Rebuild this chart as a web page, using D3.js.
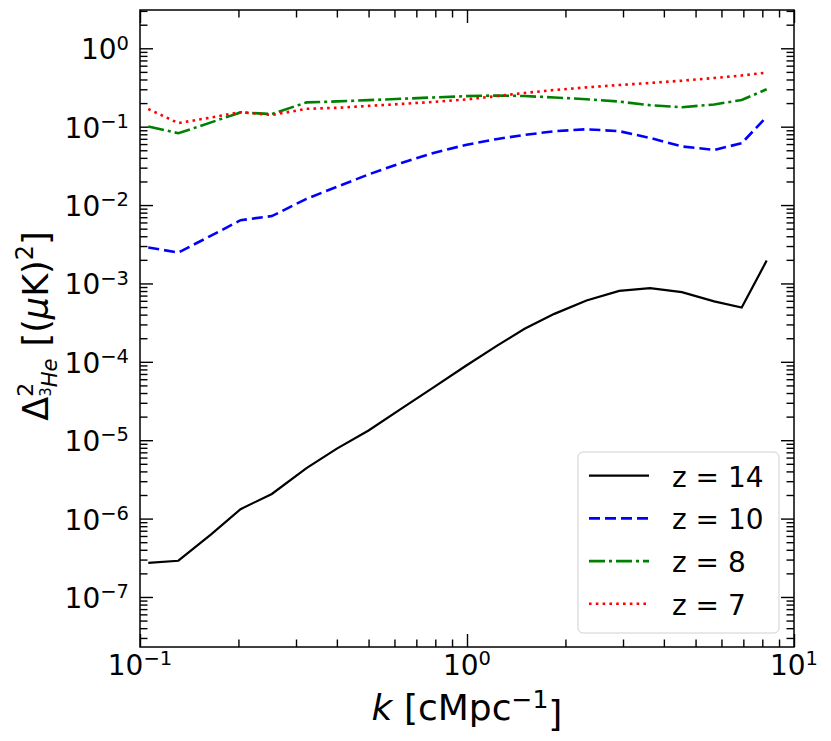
<!DOCTYPE html>
<html>
<head>
<meta charset="utf-8">
<script src="https://cdn.jsdelivr.net/npm/d3@7"></script>
<style>
  body { margin: 0; background: #fff; }
  text { font-family: "DejaVu Sans", sans-serif; fill: #000; }
</style>
</head>
<body>
<svg id="chart"></svg>
<script>
// wavenumbers k [cMpc^-1]
const kValues = [0.106, 0.131, 0.165, 0.203, 0.253, 0.323, 0.40, 0.50, 0.63, 0.79, 0.99,
                 1.24, 1.50, 1.85, 2.32, 2.92, 3.63, 4.54, 5.70, 6.92, 8.25];

const z14 = [2.72e-7, 2.9e-7, 6.3e-7, 1.32e-6, 2.06e-6, 4.41e-6, 7.8e-6, 1.33e-5, 2.53e-5, 4.73e-5, 8.85e-5,
             1.62e-4, 2.64e-4, 4.09e-4, 6.05e-4, 8.04e-4, 8.7e-4, 7.74e-4, 5.91e-4, 4.93e-4, 1.96e-3];
const z10 = [2.88e-3, 2.48e-3, 4.07e-3, 6.41e-3, 7.23e-3, 1.2e-2, 1.71e-2, 2.46e-2, 3.45e-2, 4.63e-2, 5.85e-2,
             6.98e-2, 7.85e-2, 8.74e-2, 9.27e-2, 8.77e-2, 7.18e-2, 5.6e-2, 5.05e-2, 6.15e-2, 0.134];
const z8 = [0.1007, 0.0825, 0.1135, 0.152, 0.145, 0.204, 0.21, 0.218, 0.227, 0.236, 0.245,
            0.25, 0.246, 0.236, 0.224, 0.209, 0.188, 0.177, 0.192, 0.219, 0.30];
const z7 = [0.168, 0.111, 0.131, 0.153, 0.141, 0.169, 0.174, 0.184, 0.195, 0.207, 0.222,
            0.246, 0.269, 0.294, 0.317, 0.34, 0.361, 0.386, 0.418, 0.45, 0.489];

const seriesNames = ["z = 14", "z = 10", "z = 8", "z = 7"];
const xTickExps = [-1, 0, 1];
const yTickExps = [0, -1, -2, -3, -4, -5, -6, -7];

const width = 831;
const height = 741;
const margin = ({ top: 10, right: 37, bottom: 94, left: 140 });

const styles = [
  { color: "#000000", dash: null, w: 2.2 },
  { color: "#0000ff", dash: "11,5", w: 2.6 },
  { color: "#008000", dash: "16,4,3,4", w: 2.6 },
  { color: "#ff0000", dash: "2.6,4.2", w: 2.6 }
];

const series = [z14, z10, z8, z7].map((vals, i) => ({
  name: seriesNames[i],
  points: kValues.map((k, j) => ({ k: k, v: vals[j] })),
  style: styles[i]
}));

let xScale = d3.scaleLog()
    .domain([0.1, 10])
    .range([margin.left, width - margin.right]);

let yScale = d3.scaleLog()
    .domain([2.3e-8, 3.08])
    .range([height - margin.bottom, margin.top]);

const svg = d3.select("#chart")
    .attr("width", width)
    .attr("height", height);

// minor tick values 2..9 x 10^n
function minors(lo, hi) {
  let out = [];
  for (let e = Math.floor(Math.log10(lo)); e <= Math.ceil(Math.log10(hi)); e++) {
    for (let m = 2; m <= 9; m++) {
      let v = m * Math.pow(10, e);
      if (v > lo && v < hi) out.push(v);
    }
  }
  return out;
}

const xMajor = xTickExps.map(e => Math.pow(10, e));
const yMajor = yTickExps.map(e => Math.pow(10, e));
const xMinor = minors(0.1, 10);
const yMinor = minors(2.3e-8, 3.08);

const majorLen = 13, minorLen = 7.5;
const plotH = height - margin.bottom - margin.top;
const plotW = width - margin.left - margin.right;

function tickAxis(axisFn, scale, values, len, transform) {
  svg.append("g")
      .attr("transform", transform)
      .call(axisFn(scale).tickValues(values).tickSize(-len).tickFormat(""))
      .call(g => g.select(".domain").remove())
      .call(g => g.selectAll(".tick line").attr("stroke", "#000").attr("stroke-width", 1.4));
}

// inward ticks on all four sides
tickAxis(d3.axisBottom, xScale, xMajor, majorLen, `translate(0,${height - margin.bottom})`);
tickAxis(d3.axisBottom, xScale, xMinor, minorLen, `translate(0,${height - margin.bottom})`);
tickAxis(d3.axisTop, xScale, xMajor, majorLen, `translate(0,${margin.top})`);
tickAxis(d3.axisTop, xScale, xMinor, minorLen, `translate(0,${margin.top})`);
tickAxis(d3.axisLeft, yScale, yMajor, majorLen, `translate(${margin.left},0)`);
tickAxis(d3.axisLeft, yScale, yMinor, minorLen, `translate(${margin.left},0)`);
tickAxis(d3.axisRight, yScale, yMajor, majorLen, `translate(${width - margin.right},0)`);
tickAxis(d3.axisRight, yScale, yMinor, minorLen, `translate(${width - margin.right},0)`);

// tick labels 10^n
function powLabel(sel, e) {
  sel.append("tspan").text("10");
  sel.append("tspan")
      .attr("dy", "-0.5em")
      .attr("font-size", 19.5)
      .text(String(e).replace("-", "\u2212"));
}

svg.append("g").selectAll("text")
    .data(xTickExps)
    .join("text")
    .attr("x", d => xScale(Math.pow(10, d)))
    .attr("y", height - margin.bottom + 28)
    .attr("text-anchor", "middle")
    .attr("font-size", 28)
    .each(function (d) { powLabel(d3.select(this), d); });

svg.append("g").selectAll("text")
    .data(yTickExps)
    .join("text")
    .attr("x", margin.left - 11)
    .attr("y", d => yScale(Math.pow(10, d)) + 11)
    .attr("text-anchor", "end")
    .attr("font-size", 28)
    .each(function (d) { powLabel(d3.select(this), d); });

// lines
const line = d3.line()
    .x(d => xScale(d.k))
    .y(d => yScale(d.v));

svg.append("clipPath").attr("id", "plotclip")
    .append("rect")
    .attr("x", margin.left).attr("y", margin.top)
    .attr("width", plotW).attr("height", plotH);

svg.append("g")
    .attr("clip-path", "url(#plotclip)")
    .selectAll("path")
    .data(series)
    .join("path")
    .attr("fill", "none")
    .attr("stroke", d => d.style.color)
    .attr("stroke-width", d => d.style.w)
    .attr("stroke-dasharray", d => d.style.dash)
    .attr("d", d => line(d.points));

// frame
svg.append("rect")
    .attr("x", margin.left)
    .attr("y", margin.top)
    .attr("width", plotW)
    .attr("height", plotH)
    .attr("fill", "none")
    .attr("stroke", "#000")
    .attr("stroke-width", 1.5);

// legend
const legend = svg.append("g");
legend.append("rect")
    .attr("x", 578).attr("y", 452)
    .attr("width", 201).attr("height", 181)
    .attr("rx", 5)
    .attr("fill", "#fff").attr("fill-opacity", 0.8)
    .attr("stroke", "#d0d0d0").attr("stroke-width", 1);

const rows = legend.selectAll("g.row")
    .data(series)
    .join("g")
    .attr("class", "row")
    .attr("transform", (d, i) => `translate(0,${486.7 + i * 42.7})`);

rows.append("line")
    .attr("x1", 589).attr("x2", 649)
    .attr("y1", -11).attr("y2", -11)
    .attr("stroke", d => d.style.color)
    .attr("stroke-width", d => d.style.w)
    .attr("stroke-dasharray", d => d.style.dash);

rows.append("text")
    .attr("x", 672)
    .attr("y", 0)
    .attr("font-size", 28)
    .text(d => d.name);

// x label
const xl = svg.append("text")
    .attr("x", xScale(1))
    .attr("y", 720)
    .attr("text-anchor", "middle")
    .attr("font-size", 36);
xl.append("tspan").attr("font-style", "italic").text("k");
xl.append("tspan").text(" [cMpc");
xl.append("tspan").attr("dy", "-0.5em").attr("font-size", 25).text("\u22121");
xl.append("tspan").attr("dy", "0.5em").text("]");

// y label, rotated, built piece by piece
const yl = svg.append("g")
    .attr("transform", "translate(48,326) rotate(-90)");
let pieces = [
  { t: "\u0394", size: 35, dy: 0, style: "normal", adv: true, gap: 0 },
  { t: "2", size: 22, dy: -15, style: "normal", adv: false, gap: 0 },
  { t: "3", size: 15, dy: 3, style: "normal", adv: true, gap: 0 },
  { t: "He", size: 21, dy: 9, style: "italic", adv: true, gap: 12 },
  { t: "[(", size: 35, dy: 0, style: "normal", adv: true, gap: 0 },
  { t: "\u03bc", size: 35, dy: 0, style: "italic", adv: true, gap: 0 },
  { t: "K)", size: 35, dy: 0, style: "normal", adv: true, gap: 0 },
  { t: "2", size: 24, dy: -15, style: "normal", adv: true, gap: 0 },
  { t: "]", size: 35, dy: 0, style: "normal", adv: true, gap: 0 }
];
let cx = 0;
const ylInner = yl.append("g");
pieces.forEach(p => {
  const t = ylInner.append("text")
      .attr("x", cx)
      .attr("y", p.dy)
      .attr("font-size", p.size)
      .attr("font-style", p.style)
      .text(p.t);
  const w = t.node().getComputedTextLength();
  if (p.adv) cx += w + p.gap;
});
ylInner.attr("transform", `translate(${-cx / 2},0)`);
</script>
</body>
</html>
